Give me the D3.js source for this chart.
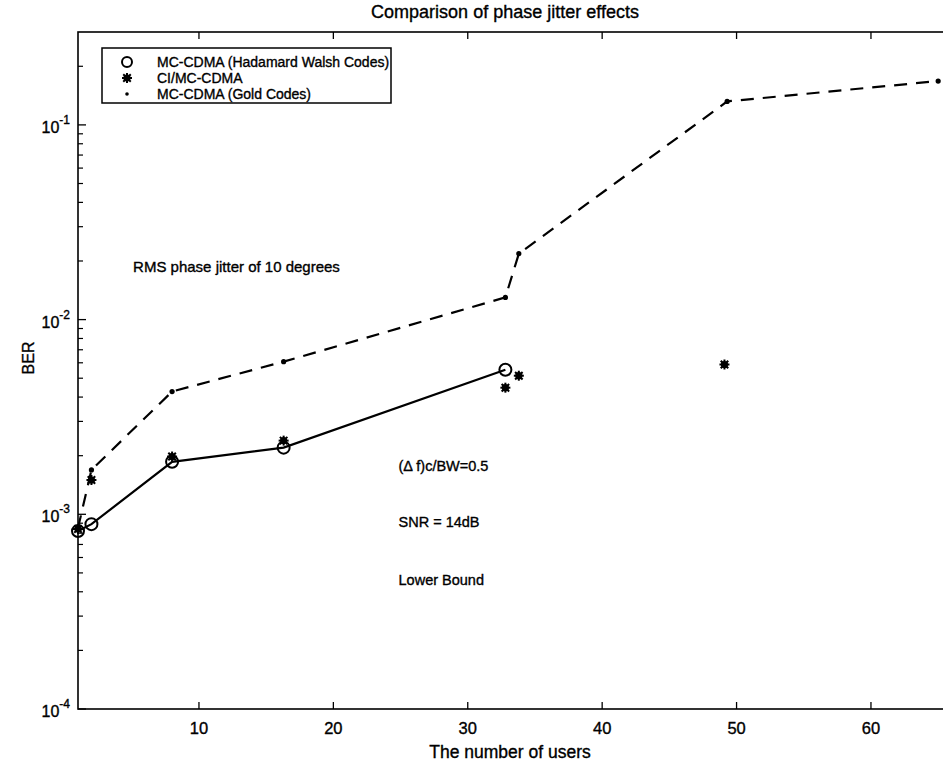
<!DOCTYPE html>
<html><head><meta charset="utf-8">
<script src="https://cdn.jsdelivr.net/npm/d3@7"></script>
<style>
body{margin:0;background:#fff;}
text{font-family:"Liberation Sans",Arial,Helvetica,sans-serif;fill:#000;stroke:#000;stroke-width:0.35px;}
</style></head>
<body><svg id="chart" width="943" height="767"></svg>
<script>
// ---- data ----
const title = "Comparison of phase jitter effects";
const xLabel = "The number of users";
const yLabel = "BER";
const seriesNames = ["MC-CDMA (Hadamard Walsh Codes)", "CI/MC-CDMA", "MC-CDMA (Gold Codes)"];
const usersHW = [1, 2, 8, 16.3, 32.8];
const berHW = [0.00082, 0.00089, 0.00186, 0.00220, 0.00553];
const usersCI = [1, 2, 8, 16.3, 32.8, 33.8, 49.1];
const berCI = [0.00084, 0.00150, 0.00198, 0.00239, 0.00447, 0.00515, 0.00588];
const usersGold = [1, 2, 8, 16.3, 32.8, 33.8, 49.3, 65];
const berGold = [0.00085, 0.00169, 0.00427, 0.00608, 0.0130, 0.0218, 0.132, 0.168];
const xTicks = [10, 20, 30, 40, 50, 60];
const yTicks = [1e-4, 1e-3, 1e-2, 1e-1];
const yTickExp = ["-4", "-3", "-2", "-1"];
const annotations = [
  {text: "RMS phase jitter of 10 degrees", x: 5.1, y: 0.0175, size: 15},
  {text: "(\u0394 f)c/BW=0.5", x: 24.85, y: 0.00167, size: 14.5},
  {text: "SNR = 14dB", x: 24.85, y: 0.00086, size: 14.5},
  {text: "Lower Bound", x: 24.85, y: 0.000434, size: 14.5}
];

// ---- layout ----
const svg = d3.select("#chart");
const L = 78, R = 951.6, T = 32, B = 709;
const x = d3.scaleLinear().domain([1, 66]).range([L, R]);
const y = d3.scaleLog().domain([1e-4, 0.3]).range([B, T]);

// frame
const g = svg.append("g");
g.append("rect").attr("x", L).attr("y", T).attr("width", R - L).attr("height", B - T)
  .attr("fill", "none").attr("stroke", "#000").attr("stroke-width", 1.6);

// x ticks (inward, bottom & top)
xTicks.forEach(v => {
  g.append("line").attr("x1", x(v)).attr("x2", x(v)).attr("y1", B).attr("y2", B - 7)
    .attr("stroke", "#000").attr("stroke-width", 1.3);
  g.append("line").attr("x1", x(v)).attr("x2", x(v)).attr("y1", T).attr("y2", T + 7)
    .attr("stroke", "#000").attr("stroke-width", 1.3);
  g.append("text").attr("x", x(v)).attr("y", B + 25).attr("text-anchor", "middle")
    .attr("font-size", 16.5).text(v);
});

// y ticks (major + minor, inward)
const minor = [];
for (let e = -4; e <= -1; e++) for (let m = 2; m <= 9; m++) { const v = m * Math.pow(10, e); if (v <= 0.3) minor.push(v); }
minor.forEach(v => {
  g.append("line").attr("x1", L).attr("x2", L + 5).attr("y1", y(v)).attr("y2", y(v))
    .attr("stroke", "#000").attr("stroke-width", 1.2);
});
yTicks.forEach((v, i) => {
  g.append("line").attr("x1", L).attr("x2", L + 8).attr("y1", y(v)).attr("y2", y(v))
    .attr("stroke", "#000").attr("stroke-width", 1.3);
  const t = g.append("text").attr("x", L - 8).attr("y", y(v) + 8).attr("text-anchor", "end").attr("font-size", 16);
  t.append("tspan").text("10");
  t.append("tspan").attr("dy", -9).attr("font-size", 12).text(yTickExp[i]);
});

// axis labels & title
svg.append("text").attr("x", 505).attr("y", 18).attr("text-anchor", "middle")
  .attr("font-size", 18).text(title);
svg.append("text").attr("x", 510).attr("y", 758).attr("text-anchor", "middle")
  .attr("font-size", 17.5).text(xLabel);
svg.append("text").attr("transform", "translate(34,358) rotate(-90)").attr("text-anchor", "middle")
  .attr("font-size", 16).text(yLabel);

// ---- series ----
const line = d3.line().x(d => x(d[0])).y(d => y(d[1]));
const hw = usersHW.map((u, i) => [u, berHW[i]]);
const ci = usersCI.map((u, i) => [u, berCI[i]]);
const gold = usersGold.map((u, i) => [u, berGold[i]]);

const plot = svg.append("g");
plot.append("path").datum(gold).attr("d", line).attr("fill", "none").attr("stroke", "#000")
  .attr("stroke-width", 2.2).attr("stroke-dasharray", "13,9");
plot.selectAll(".gdot").data(gold).enter().append("circle")
  .attr("cx", d => x(d[0])).attr("cy", d => y(d[1])).attr("r", 2.6).attr("fill", "#000");
plot.append("path").datum(hw).attr("d", line).attr("fill", "none").attr("stroke", "#000").attr("stroke-width", 2.2);

function star(sel, cx, cy) {
  const s = 5;
  const gg = sel.append("g").attr("transform", `translate(${cx},${cy})`);
  gg.append("circle").attr("r", 3.6).attr("fill", "#000");
  [[-s, 0, s, 0], [0, -s, 0, s], [-s*0.75, -s*0.75, s*0.75, s*0.75], [-s*0.75, s*0.75, s*0.75, -s*0.75]].forEach(l => {
    gg.append("line").attr("x1", l[0]).attr("y1", l[1]).attr("x2", l[2]).attr("y2", l[3])
      .attr("stroke", "#000").attr("stroke-width", 2);
  });
}
ci.forEach(d => star(plot, x(d[0]), y(d[1])));
plot.selectAll(".hwc").data(hw).enter().append("circle")
  .attr("cx", d => x(d[0])).attr("cy", d => y(d[1])).attr("r", 6)
  .attr("fill", "none").attr("stroke", "#000").attr("stroke-width", 2);

// annotations
annotations.forEach(a => {
  svg.append("text").attr("x", x(a.x)).attr("y", y(a.y)).attr("font-size", a.size).text(a.text);
});

// ---- legend ----
const lg = svg.append("g");
lg.append("rect").attr("x", 102).attr("y", 48).attr("width", 289).attr("height", 55)
  .attr("fill", "#fff").attr("stroke", "#000").attr("stroke-width", 1.5);
const ly = [62, 78, 94];
seriesNames.forEach((n, i) => {
  lg.append("text").attr("x", 157).attr("y", ly[i] + 5).attr("font-size", 14).text(n);
});
lg.append("circle").attr("cx", 127).attr("cy", ly[0]).attr("r", 5).attr("fill", "none").attr("stroke", "#000").attr("stroke-width", 2);
star(lg, 127, ly[1]);
lg.append("circle").attr("cx", 127).attr("cy", ly[2]).attr("r", 1.8).attr("fill", "#000");
</script></body></html>
